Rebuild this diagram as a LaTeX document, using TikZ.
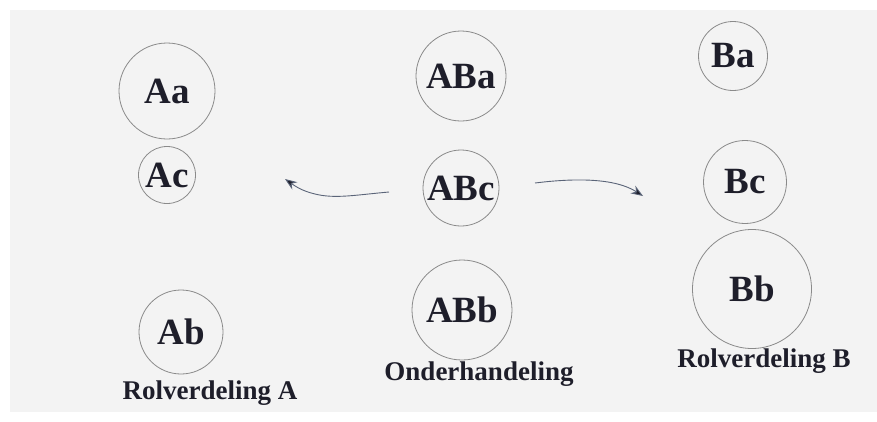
\documentclass[tikz,border=0pt]{standalone}
\usepackage{fontspec}
\setmainfont{Liberation Serif}
\usetikzlibrary{arrows.meta}
\definecolor{bggray}{HTML}{F3F3F3}
\definecolor{ringgray}{HTML}{8A8A8A}
\definecolor{inkc}{HTML}{1E1E2A}
\definecolor{arrowc}{HTML}{5A6478}
\tikzset{
  role/.style={circle, draw=ringgray, line width=0.8pt, inner sep=0pt, text=inkc,
               font=\fontsize{37}{37}\selectfont\bfseries},
  caption/.style={text=inkc, inner sep=0pt, font=\fontsize{27}{27}\selectfont\bfseries},
  flow/.style={draw=arrowc, line width=0.9pt, -{Stealth[length=12pt,width=9pt,fill=inkc]}}
}
\begin{document}
\begin{tikzpicture}[x=1pt,y=-1pt]
\useasboundingbox (0,0) rectangle (877,421);
\fill[bggray] (10,10) rectangle (877,412);
% column A
\node[role, minimum size=96pt] (Aa) at (167,91) {Aa};
\node[role, minimum size=57pt] (Ac) at (167,175) {Ac};
\node[role, minimum size=84pt] (Ab) at (181,332) {Ab};
\node[caption] (capA) at (210,393) {Rolverdeling A};
% column AB
\node[role, minimum size=90pt] (ABa) at (461,76) {ABa};
\node[role, minimum size=76pt] (ABc) at (461,188) {ABc};
\node[role, minimum size=100pt] (ABb) at (462,310) {ABb};
\node[caption] (capAB) at (479,374) {Onderhandeling};
% column B
\node[role, minimum size=69pt] (Ba) at (733,56) {Ba};
\node[role, minimum size=83pt] (Bc) at (745,182) {Bc};
\node[role, minimum size=119pt] (Bb) at (752,289) {Bb};
\node[caption] (capB) at (764,361) {Rolverdeling B};
% arrows
\coordinate (lstart) at (389,192);
\coordinate (ltip) at (285,179);
\coordinate (rstart) at (535,183);
\coordinate (rtip) at (643,196);
\draw[flow] (lstart) .. controls (355,195) and (335,199) .. (315,194) .. controls (302,191) and (295,186) .. (ltip);
\draw[flow] (rstart) .. controls (575,178) and (615,178) .. (rtip);
\end{tikzpicture}
\end{document}
